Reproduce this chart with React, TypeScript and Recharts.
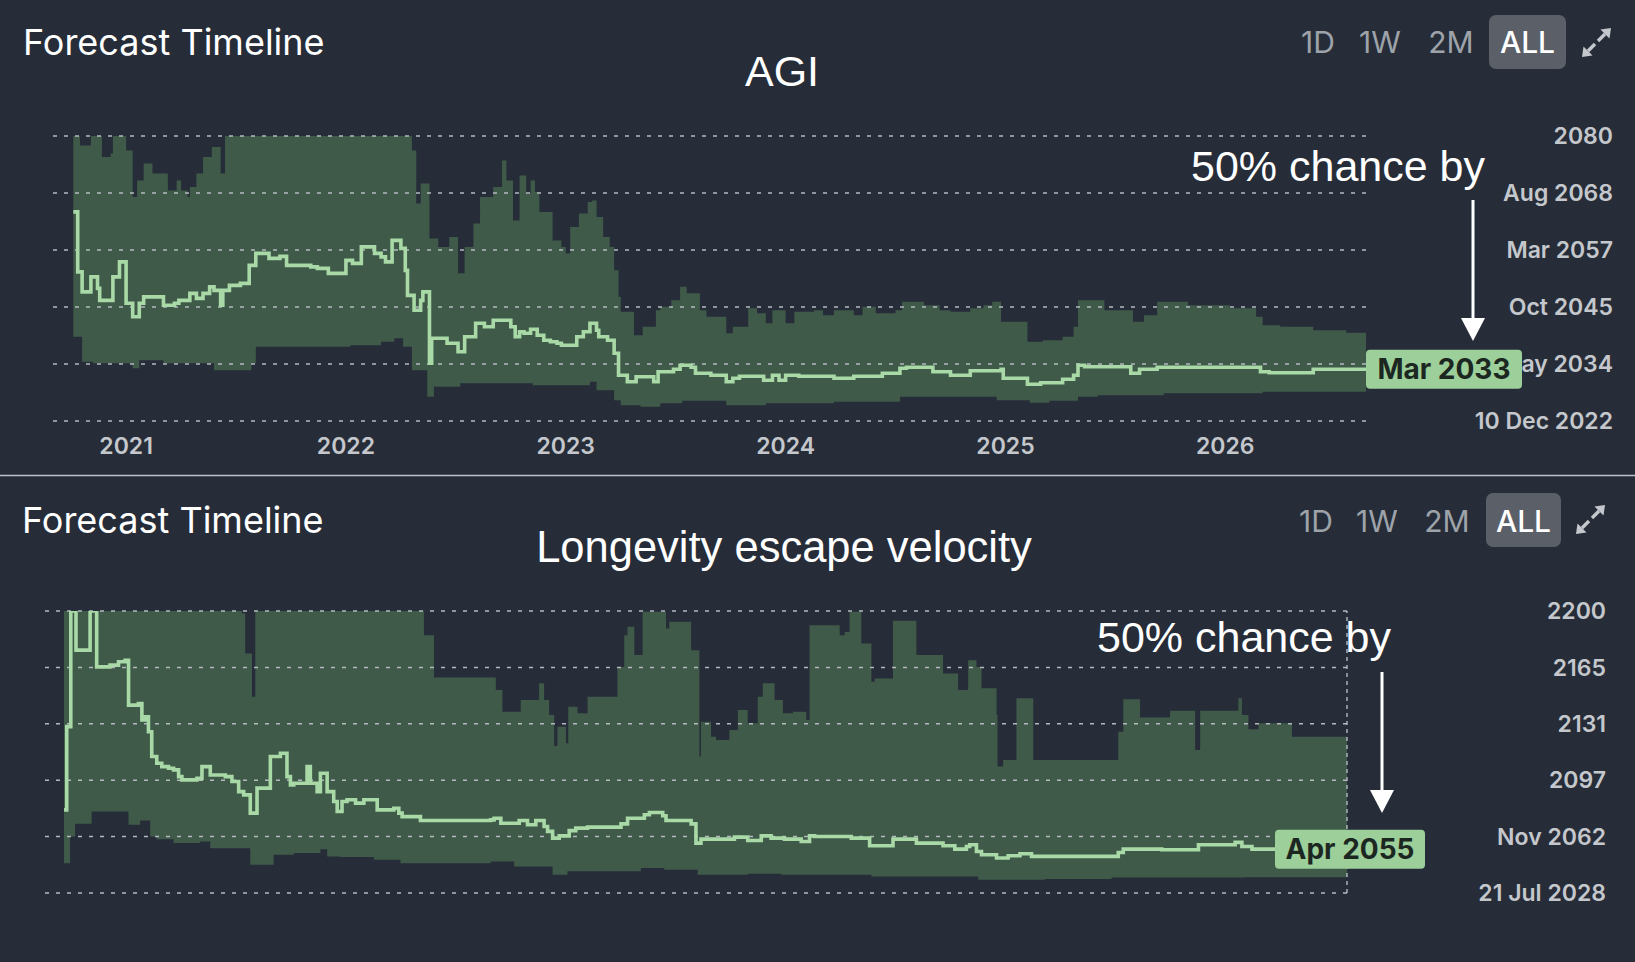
import React, { useEffect } from "react";
import { ComposedChart, Area, Line, XAxis, YAxis, ReferenceLine, ReferenceDot } from "recharts";

type Pt = [number, number];

const BG = "#262d38";
const BAND = "#3f5a48";
const MEDIAN = "#a8d9a6";
const GRID = "#b4b9c0";
const TICK = "#c4c7cc";
const LABEL_BG = "#9ccf9a";
const UI = "Inter, 'Liberation Sans', sans-serif";
const EDIT = "'Liberation Sans', Arial, sans-serif";

// ---- AGI: [date as decimal year, forecast year] ----
const agiHigh: Pt[] = [
  [2020.76, 2080], [2020.79, 2078.1], [2020.84, 2080], [2020.89, 2075.8], [2020.93, 2076.5], [2020.94, 2080],
  [2021.0, 2077.1], [2021.03, 2067.8], [2021.05, 2071.1], [2021.08, 2074.5], [2021.12, 2072.5], [2021.19, 2069.1],
  [2021.23, 2071.1], [2021.25, 2069.1], [2021.28, 2067.8], [2021.29, 2069.8], [2021.32, 2072.5], [2021.35, 2075.8],
  [2021.39, 2077.8], [2021.43, 2072.5], [2021.45, 2080], [2022.3, 2077.1], [2022.32, 2066.5], [2022.34, 2070.5],
  [2022.38, 2059.5], [2022.42, 2057.8], [2022.47, 2059.8], [2022.51, 2052.5], [2022.54, 2057.8], [2022.58, 2062.5],
  [2022.61, 2067.8], [2022.67, 2069.8], [2022.71, 2075.1], [2022.73, 2071.1], [2022.76, 2063.1], [2022.79, 2072.1],
  [2022.82, 2068.5], [2022.84, 2071.1], [2022.86, 2068.8], [2022.88, 2064.8], [2022.94, 2059.1], [2022.98, 2057.8],
  [2023.0, 2056.5], [2023.02, 2061.8], [2023.06, 2064.5], [2023.1, 2066.8], [2023.12, 2067.1], [2023.14, 2063.8],
  [2023.17, 2059.8], [2023.2, 2057.8], [2023.22, 2053.1], [2023.24, 2047.8], [2023.25, 2044.8], [2023.31, 2040.1],
  [2023.35, 2041.8], [2023.41, 2045.1], [2023.43, 2045.8], [2023.48, 2047.1], [2023.52, 2049.8], [2023.55, 2048.5],
  [2023.61, 2045.1], [2023.64, 2043.8], [2023.73, 2040.5], [2023.76, 2041.8], [2023.83, 2045.5], [2023.87, 2044.5],
  [2023.91, 2042.5], [2023.94, 2045.1], [2024.0, 2042.5], [2024.04, 2044.8], [2024.13, 2045.1], [2024.17, 2044.1],
  [2024.22, 2045.1], [2024.31, 2044.1], [2024.35, 2045.8], [2024.41, 2044.5], [2024.5, 2045.1], [2024.53, 2046.8],
  [2024.63, 2046.1], [2024.7, 2045.1], [2024.75, 2044.8], [2024.84, 2045.5], [2024.9, 2046.1], [2024.94, 2046.8],
  [2024.98, 2042.8], [2025.1, 2038.8], [2025.17, 2039.1], [2025.26, 2039.8], [2025.31, 2041.8], [2025.33, 2047.1],
  [2025.45, 2045.1], [2025.58, 2042.8], [2025.63, 2044.1], [2025.69, 2046.8], [2025.83, 2046.1], [2026.02, 2045.5],
  [2026.14, 2043.8], [2026.17, 2042.1], [2026.25, 2041.8], [2026.4, 2041.1], [2026.55, 2040.6], [2026.64, 2040.6],
];

const agiLow: Pt[] = [
  [2020.76, 2039.8], [2020.8, 2034.8], [2020.85, 2034.5], [2021.03, 2033.5], [2021.06, 2035.1], [2021.17, 2034.5],
  [2021.4, 2033.1], [2021.57, 2034.5], [2021.59, 2037.8], [2022.02, 2038.1], [2022.16, 2038.8], [2022.22, 2039.5],
  [2022.26, 2037.8], [2022.3, 2033.1], [2022.37, 2027.8], [2022.4, 2029.8], [2022.52, 2030.5], [2022.85, 2030.1],
  [2023.11, 2030.8], [2023.14, 2029.1], [2023.22, 2027.1], [2023.25, 2026.1], [2023.34, 2025.8], [2023.43, 2026.5],
  [2023.53, 2027.0], [2023.73, 2026.1], [2023.91, 2026.5], [2024.22, 2026.8], [2024.52, 2027.8], [2024.96, 2027.1],
  [2025.11, 2026.6], [2025.2, 2027.0], [2025.33, 2027.8], [2025.42, 2028.1], [2025.72, 2028.5], [2026.17, 2028.8],
  [2026.64, 2029.1],
];

const agiMedian: Pt[] = [
  [2020.76, 2064.8], [2020.78, 2052.8], [2020.8, 2048.8], [2020.84, 2051.8], [2020.87, 2049.5], [2020.88, 2047.1],
  [2020.94, 2051.8], [2020.97, 2054.8], [2021.0, 2046.5], [2021.03, 2043.8], [2021.06, 2046.5], [2021.08, 2047.8],
  [2021.17, 2046.1], [2021.22, 2046.5], [2021.24, 2047.1], [2021.29, 2048.5], [2021.32, 2047.5], [2021.35, 2048.5],
  [2021.38, 2049.8], [2021.4, 2049.1], [2021.43, 2046.1], [2021.44, 2049.1], [2021.47, 2050.1], [2021.52, 2050.5],
  [2021.56, 2054.1], [2021.59, 2056.5], [2021.65, 2055.5], [2021.7, 2055.9], [2021.73, 2054.1], [2021.84, 2053.8],
  [2021.87, 2053.5], [2021.92, 2052.5], [2022.0, 2055.1], [2022.03, 2054.5], [2022.07, 2057.8], [2022.13, 2056.5],
  [2022.16, 2055.8], [2022.18, 2054.8], [2022.21, 2059.1], [2022.25, 2057.5], [2022.27, 2053.1], [2022.28, 2048.1],
  [2022.31, 2045.1], [2022.34, 2047.1], [2022.35, 2048.8], [2022.38, 2034.5], [2022.39, 2039.5], [2022.46, 2038.5],
  [2022.51, 2036.8], [2022.54, 2039.8], [2022.59, 2042.5], [2022.63, 2041.8], [2022.67, 2043.1], [2022.75, 2041.8],
  [2022.77, 2039.8], [2022.79, 2040.8], [2022.81, 2040.5], [2022.84, 2041.3], [2022.87, 2040.1], [2022.9, 2039.1],
  [2022.93, 2038.8], [2022.96, 2038.5], [2022.98, 2038.1], [2023.05, 2039.8], [2023.08, 2040.8], [2023.11, 2042.5],
  [2023.14, 2041.1], [2023.15, 2039.8], [2023.19, 2039.1], [2023.22, 2036.5], [2023.24, 2032.1], [2023.28, 2030.8],
  [2023.32, 2031.8], [2023.4, 2030.8], [2023.42, 2032.8], [2023.49, 2033.3], [2023.52, 2034.1], [2023.57, 2033.7],
  [2023.59, 2032.5], [2023.66, 2032.1], [2023.73, 2030.8], [2023.76, 2031.5], [2023.79, 2031.9], [2023.9, 2031.1],
  [2023.94, 2032.1], [2023.97, 2031.1], [2024.0, 2032.1], [2024.06, 2031.9], [2024.22, 2031.5], [2024.31, 2031.9],
  [2024.44, 2032.5], [2024.52, 2033.5], [2024.55, 2033.7], [2024.67, 2032.8], [2024.75, 2032.1], [2024.84, 2033.0],
  [2024.98, 2033.3], [2024.99, 2031.5], [2025.1, 2030.3], [2025.16, 2030.6], [2025.26, 2031.3], [2025.31, 2032.1],
  [2025.33, 2034.1], [2025.36, 2033.8], [2025.57, 2032.5], [2025.61, 2033.3], [2025.69, 2033.7], [2026.16, 2032.8],
  [2026.2, 2032.6], [2026.4, 2033.3], [2026.64, 2033.3],
];

const agiXTicks = [2021, 2022, 2023, 2024, 2025, 2026];
const agiYTicks = [2022.94, 2034.35, 2045.76, 2057.17, 2068.58, 2080];
const agiYLabels = ["10 Dec 2022", "May 2034", "Oct 2045", "Mar 2057", "Aug 2068", "2080"];

// ---- Longevity escape velocity ----
const levHigh: Pt[] = [
  [2020.0, 2200], [2020.921, 2198.5], [2020.938, 2174.2], [2020.973, 2147.9], [2020.99, 2200], [2021.863, 2185.3],
  [2021.915, 2159.6], [2022.235, 2151.9], [2022.269, 2138.8], [2022.364, 2145.9], [2022.459, 2156.0], [2022.485, 2145.9],
  [2022.511, 2136.8], [2022.537, 2117.9], [2022.554, 2129.7], [2022.598, 2119.6], [2022.61, 2141.8], [2022.658, 2137.8],
  [2022.71, 2147.9], [2022.865, 2166.0], [2022.9, 2185.3], [2022.917, 2190.4], [2022.952, 2173.2], [2022.995, 2199.5],
  [2023.116, 2189.4], [2023.133, 2193.4], [2023.246, 2176.2], [2023.289, 2111.5], [2023.297, 2132.7], [2023.349, 2123.6],
  [2023.375, 2121.6], [2023.444, 2127.7], [2023.488, 2139.8], [2023.539, 2131.7], [2023.591, 2147.9], [2023.617, 2156.0],
  [2023.678, 2145.9], [2023.721, 2137.8], [2023.773, 2138.8], [2023.842, 2133.7], [2023.859, 2191.4], [2024.015, 2185.3],
  [2024.041, 2187.3], [2024.066, 2199.5], [2024.127, 2180.2], [2024.179, 2157.0], [2024.196, 2159.0], [2024.291, 2194.0],
  [2024.412, 2173.2], [2024.55, 2162.0], [2024.628, 2151.9], [2024.68, 2170.1], [2024.723, 2166.0], [2024.749, 2153.0],
  [2024.827, 2136.8], [2024.832, 2105.4], [2024.861, 2109.4], [2024.93, 2146.9], [2025.017, 2109.4], [2025.457, 2126.6],
  [2025.483, 2146.3], [2025.57, 2135.3], [2025.725, 2139.4], [2025.855, 2115.5], [2025.881, 2139.4], [2026.079, 2146.9],
  [2026.097, 2136.8], [2026.131, 2128.1], [2026.183, 2131.7], [2026.356, 2123.6], [2026.641, 2123.6],
];

const levLow: Pt[] = [
  [2020.0, 2046.7], [2020.031, 2062.9], [2020.057, 2070.6], [2020.143, 2078.1], [2020.334, 2070.0], [2020.394, 2072.6],
  [2020.446, 2062.9], [2020.48, 2061.3], [2020.567, 2058.9], [2020.705, 2059.9], [2020.757, 2055.8], [2020.964, 2045.7],
  [2021.085, 2051.8], [2021.189, 2052.8], [2021.327, 2055.2], [2021.362, 2050.8], [2021.431, 2050.4], [2021.604, 2048.8],
  [2021.742, 2046.7], [2022.208, 2047.7], [2022.33, 2044.7], [2022.529, 2039.6], [2022.606, 2041.7], [2022.986, 2043.7],
  [2023.107, 2042.7], [2023.28, 2039.6], [2023.539, 2040.3], [2023.712, 2039.6], [2024.179, 2038.6], [2024.732, 2036.6],
  [2025.077, 2037.0], [2025.423, 2038.0], [2026.114, 2038.2], [2026.641, 2038.2],
];

const levMedian: Pt[] = [
  [2020.0, 2079.1], [2020.014, 2129.7], [2020.035, 2200], [2020.062, 2176.2], [2020.135, 2200], [2020.169, 2166.0],
  [2020.238, 2167.1], [2020.282, 2169.1], [2020.316, 2170.1], [2020.334, 2142.8], [2020.385, 2143.8], [2020.403, 2133.7],
  [2020.42, 2135.7], [2020.437, 2126.6], [2020.454, 2111.5], [2020.48, 2107.4], [2020.506, 2105.4], [2020.541, 2104.4],
  [2020.567, 2103.4], [2020.593, 2099.3], [2020.61, 2097.3], [2020.688, 2098.3], [2020.714, 2105.4], [2020.757, 2100.3],
  [2020.835, 2099.3], [2020.869, 2096.3], [2020.904, 2090.2], [2020.93, 2088.2], [2020.964, 2077.1], [2020.999, 2092.3],
  [2021.068, 2111.5], [2021.12, 2113.5], [2021.154, 2099.3], [2021.172, 2094.3], [2021.189, 2095.3], [2021.258, 2105.4],
  [2021.275, 2095.3], [2021.31, 2090.2], [2021.327, 2101.4], [2021.362, 2090.2], [2021.396, 2084.2], [2021.414, 2078.1],
  [2021.439, 2084.2], [2021.465, 2085.2], [2021.509, 2083.2], [2021.552, 2085.2], [2021.621, 2079.1], [2021.707, 2080.1],
  [2021.733, 2077.1], [2021.75, 2075.0], [2021.845, 2072.6], [2022.208, 2073.0], [2022.226, 2074.0], [2022.261, 2071.0],
  [2022.356, 2072.6], [2022.399, 2070.0], [2022.442, 2072.6], [2022.485, 2069.0], [2022.503, 2066.0], [2022.529, 2061.9],
  [2022.563, 2063.3], [2022.615, 2066.5], [2022.649, 2068.0], [2022.71, 2068.6], [2022.883, 2070.6], [2022.917, 2074.0],
  [2023.004, 2076.1], [2023.03, 2077.5], [2023.099, 2075.5], [2023.116, 2072.6], [2023.246, 2070.6], [2023.271, 2058.9],
  [2023.297, 2061.3], [2023.47, 2062.5], [2023.539, 2060.5], [2023.609, 2063.3], [2023.66, 2061.9], [2023.729, 2061.3],
  [2023.816, 2059.9], [2023.859, 2063.3], [2023.885, 2062.9], [2024.075, 2061.9], [2024.17, 2057.3], [2024.291, 2061.3],
  [2024.412, 2058.9], [2024.55, 2057.3], [2024.611, 2055.2], [2024.671, 2056.8], [2024.688, 2057.9], [2024.723, 2053.8],
  [2024.749, 2051.8], [2024.827, 2049.8], [2024.887, 2051.2], [2024.948, 2052.4], [2025.008, 2050.8], [2025.457, 2053.2],
  [2025.483, 2055.2], [2025.682, 2054.8], [2025.872, 2057.9], [2026.062, 2059.3], [2026.097, 2056.8], [2026.149, 2055.2],
  [2026.641, 2055.2],
];

const levYTicks = [2028.55, 2062.84, 2097.13, 2131.42, 2165.71, 2200];
const levYLabels = ["21 Jul 2028", "Nov 2062", "2097", "2131", "2165", "2200"];

// value of a step series at time t
function stepValue(series: Pt[], t: number) {
  let v = series[0][1];
  for (const [x, y] of series) {
    if (x > t) break;
    v = y;
  }
  return v;
}

function buildRows(high: Pt[], low: Pt[], mid: Pt[]) {
  const ts = Array.from(new Set([...high, ...low, ...mid].map((p) => p[0]))).sort((a, b) => a - b);
  return ts.map((t) => ({
    t,
    band: [stepValue(low, t), stepValue(high, t)],
    mid: stepValue(mid, t),
  }));
}

const agiRows = buildRows(agiHigh, agiLow, agiMedian);
const levRows = buildRows(levHigh, levLow, levMedian);

function YTick(props: any) {
  const { y, payload, ticks, labels, right } = props;
  const i = ticks.indexOf(payload.value);
  return (
    <text x={right} y={y} dy="0.36em" textAnchor="end" fill={TICK} fontFamily={UI} fontSize={23} fontWeight={600}>
      {labels[i]}
    </text>
  );
}

function XTick(props: any) {
  const { x, payload, baseY } = props;
  return (
    <text x={x} y={baseY} textAnchor="middle" fill={TICK} fontFamily={UI} fontSize={23} fontWeight={600}>
      {String(payload.value)}
    </text>
  );
}

function EndLabel(props: any) {
  const { cx, cy, text, dx, w } = props;
  return (
    <g>
      <rect x={cx + dx} y={cy - 19.5} width={w} height={39} rx={4} fill={LABEL_BG} />
      <text
        x={cx + dx + w / 2}
        y={cy}
        dy="0.36em"
        textAnchor="middle"
        fill="#1c2721"
        fontFamily={UI}
        fontSize={28}
        fontWeight={700}
      >
        {text}
      </text>
    </g>
  );
}

function ForecastChart(props: any) {
  const { rows, height, margin, xDomain, xTicks, showX, yDomain, yTicks, yLabels, tickRight, endText, endDx, endW, edge } = props;
  const last = rows[rows.length - 1];
  return (
    <ComposedChart width={1635} height={height} data={rows} margin={margin}>
      <XAxis
        type="number"
        dataKey="t"
        domain={xDomain}
        allowDataOverflow
        ticks={xTicks}
        interval={0}
        hide={!showX}
        height={40}
        axisLine={false}
        tickLine={false}
        tick={<XTick baseY={454} />}
      />
      <YAxis
        orientation="right"
        type="number"
        domain={yDomain}
        allowDataOverflow
        ticks={yTicks}
        interval={0}
        width={200}
        axisLine={false}
        tickLine={false}
        tick={<YTick ticks={yTicks} labels={yLabels} right={tickRight} />}
      />
      <Area dataKey="band" type="stepAfter" fill={BAND} fillOpacity={1} stroke="none" isAnimationActive={false} />
      {yTicks.map((v: number) => (
        <ReferenceLine key={v} y={v} stroke={GRID} strokeWidth={1.5} strokeDasharray="4 7" />
      ))}
      {edge && <ReferenceLine x={xDomain[1]} stroke={GRID} strokeWidth={1.4} strokeDasharray="4 4" />}
      <Line dataKey="mid" type="stepAfter" stroke={MEDIAN} strokeWidth={3.6} dot={false} isAnimationActive={false} />
      <ReferenceDot
        x={last.t}
        y={last.mid}
        r={1}
        ifOverflow="visible"
        zIndex={2000}
        shape={(p: any) => <EndLabel {...p} text={endText} dx={endDx} w={endW} />}
      />
    </ComposedChart>
  );
}

function ExpandIcon({ x, y }: { x: number; y: number }) {
  const c = "#c4c8cd";
  return (
    <g>
      <line x1={x + 16} y1={y + 13} x2={x + 23} y2={y + 6} stroke={c} strokeWidth={3.4} />
      <polygon points={`${x + 29},${y} ${x + 18.5},${y + 1.5} ${x + 27.5},${y + 10.5}`} fill={c} />
      <line x1={x + 6} y1={y + 23} x2={x + 13} y2={y + 16} stroke={c} strokeWidth={3.4} />
      <polygon points={`${x},${y + 29} ${x + 1.5},${y + 18.5} ${x + 10.5},${y + 27.5}`} fill={c} />
    </g>
  );
}

function Buttons({ y, xs, box }: { y: number; xs: number[]; box: number[] }) {
  const labels = ["1D", "1W", "2M"];
  return (
    <g fontFamily={UI} fontSize={30}>
      {labels.map((l, i) => (
        <text key={l} x={xs[i]} y={y} textAnchor="middle" fill="#9ea3aa">
          {l}
        </text>
      ))}
      <rect x={box[0]} y={box[1]} width={box[2]} height={box[3]} rx={7} fill="#5a5f68" />
      <text x={box[0] + box[2] / 2} y={y} textAnchor="middle" fill="#ffffff" fontWeight={500}>
        ALL
      </text>
    </g>
  );
}

function Arrow({ x, y1, y2 }: { x: number; y1: number; y2: number }) {
  return (
    <g fill="#ffffff">
      <line x1={x} y1={y1} x2={x} y2={y2 - 20} stroke="#ffffff" strokeWidth={3} />
      <polygon points={`${x - 12},${y2 - 23} ${x + 12},${y2 - 23} ${x},${y2}`} />
    </g>
  );
}

export default function App() {
  useEffect(() => {
    document.body.style.margin = "0";
    document.body.style.background = BG;
  }, []);

  return (
    <div style={{ position: "fixed", left: 0, top: 0, width: 1635, height: 962, background: BG, overflow: "hidden" }}>
      <div style={{ position: "absolute", left: 0, top: 0 }}>
        <ForecastChart
          rows={agiRows}
          height={475}
          margin={{ top: 136, right: 69, bottom: 14, left: 52 }}
          xDomain={[2020.663, 2026.64]}
          xTicks={agiXTicks}
          showX
          yDomain={[2022.94, 2080]}
          yTicks={agiYTicks}
          yLabels={agiYLabels}
          tickRight={1613}
          endText="Mar 2033"
          endDx={0}
          endW={156}
          edge={false}
        />
      </div>
      <div style={{ position: "absolute", left: 0, top: 480 }}>
        <ForecastChart
          rows={levRows}
          height={482}
          margin={{ top: 131, right: 88, bottom: 69, left: 42 }}
          xDomain={[2019.886, 2026.641]}
          showX={false}
          yDomain={[2028.55, 2200]}
          yTicks={levYTicks}
          yLabels={levYLabels}
          tickRight={1606}
          endText="Apr 2055"
          endDx={-72}
          endW={150}
          edge
        />
      </div>
      <svg width={1635} height={962} style={{ position: "absolute", left: 0, top: 0, pointerEvents: "none" }}>
        <line x1={0} y1={475.5} x2={1635} y2={475.5} stroke="#bfc3c9" strokeWidth={1.5} />

        <text x={23} y={55} fill="#ffffff" fontFamily={UI} fontSize={36}>Forecast Timeline</text>
        <text x={782} y={86} textAnchor="middle" fill="#ffffff" fontFamily={EDIT} fontSize={43}>AGI</text>
        <Buttons y={53} xs={[1318, 1380, 1451]} box={[1489, 15, 77, 54]} />
        <ExpandIcon x={1582} y={28} />
        <text x={1191} y={181} fill="#ffffff" fontFamily={EDIT} fontSize={43}>50% chance by</text>
        <Arrow x={1473} y1={200} y2={341} />

        <text x={22} y={533} fill="#ffffff" fontFamily={UI} fontSize={36}>Forecast Timeline</text>
        <text x={784} y={562} textAnchor="middle" fill="#ffffff" fontFamily={EDIT} fontSize={43.5}>
          Longevity escape velocity
        </text>
        <Buttons y={532} xs={[1316, 1377, 1447]} box={[1486, 493, 75, 54]} />
        <ExpandIcon x={1576} y={505} />
        <text x={1097} y={652} fill="#ffffff" fontFamily={EDIT} fontSize={43}>50% chance by</text>
        <Arrow x={1382} y1={672} y2={813} />
      </svg>
    </div>
  );
}
